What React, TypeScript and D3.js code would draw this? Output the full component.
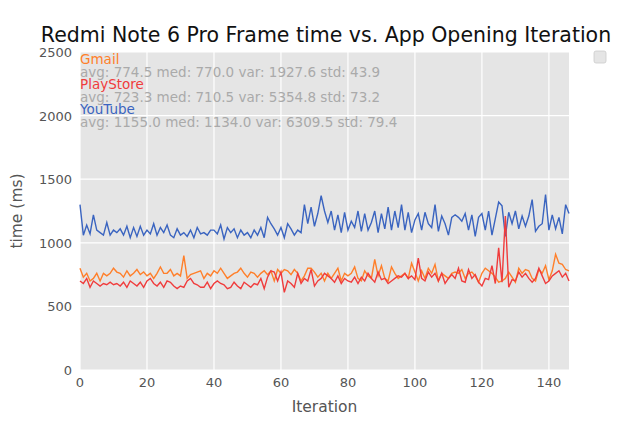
import React, { useEffect, useRef } from 'react';
import * as d3 from 'd3';

const youtube = [1300,1060,1140,1070,1220,1100,1080,1060,1160,1060,1100,1080,1110,1060,1130,1040,1120,1050,1130,1060,1100,1070,1150,1060,1120,1080,1140,1060,1040,1110,1060,1080,1050,1100,1040,1120,1070,1080,1060,1100,1100,1070,1140,1030,1120,1080,1110,1040,1100,1060,1080,1040,1100,1060,1120,1040,1200,1150,1110,1060,1120,1040,1150,1110,1060,1100,1080,1300,1150,1280,1130,1230,1370,1250,1160,
  1250,1100,1220,1080,1240,1100,1170,1120,1250,1090,1230,1100,1160,1250,1080,1230,1110,1280,1100,1250,1120,1300,1100,1240,1080,1180,1230,1100,1240,1150,1120,1300,1090,1210,1150,1060,1200,1220,1200,1170,1230,1100,1220,1050,1200,1230,1100,1250,1060,1190,1320,1290,1050,1240,1150,1250,1110,1210,1130,1210,1340,1090,1130,1150,1380,1100,1220,1110,1200,1070,1300,1230];
const gmail = [800,730,760,700,720,760,700,760,740,760,800,770,760,730,780,740,760,790,750,770,740,760,720,760,810,760,760,790,740,760,740,900,720,750,760,770,780,720,760,740,780,760,800,760,720,740,760,770,800,760,730,770,760,730,760,780,750,780,700,790,760,790,780,750,790,760,700,740,800,800,770,730,760,700,760,
  720,760,800,700,760,740,760,810,720,700,780,740,720,870,740,820,720,700,810,760,720,740,760,720,840,770,700,780,720,800,760,830,700,760,740,720,760,770,760,790,720,760,770,740,690,760,800,780,760,730,690,700,720,770,730,690,800,760,790,780,720,700,790,760,820,710,780,910,840,830,790,780];
const playstore = [700,680,720,650,700,680,660,680,670,690,670,680,660,690,650,700,680,660,690,650,700,720,680,660,690,650,700,690,660,640,660,650,700,720,680,670,650,650,690,640,680,700,680,670,640,650,690,660,640,690,670,650,680,670,720,640,730,780,770,700,770,610,700,680,650,760,680,720,700,790,660,700,720,760,740,
  720,690,740,680,720,700,690,730,680,730,700,760,720,690,770,710,720,680,700,720,740,730,760,720,740,710,880,720,700,770,730,760,700,760,680,720,750,720,800,700,690,790,720,750,690,660,720,710,820,680,960,690,1210,650,710,700,770,730,760,720,690,720,800,740,680,700,740,760,780,730,760,700];

const seriesNames = ['Gmail', 'PlayStore', 'YouTube'];
const seriesData = [gmail, playstore, youtube];
const lineColors = ['#ff7f2a', '#f03c3c', '#3a64c0'];
const statLines = [
  'avg: 774.5 med: 770.0 var: 1927.6 std: 43.9',
  'avg: 723.3 med: 710.5 var: 5354.8 std: 73.2',
  'avg: 1155.0 med: 1134.0 var: 6309.5 std: 79.4',
];
const xTicks = [0, 20, 40, 60, 80, 100, 120, 140];
const yTicks = [0, 500, 1000, 1500, 2000, 2500];

export default function App() {
  const ref = useRef<SVGSVGElement>(null);
  useEffect(() => {
    const svg = d3.select(ref.current);
    svg.selectAll('*').remove();
    const L = 80, R = 569, T = 52, B = 370;
    const n = youtube.length;
    const x = d3.scaleLinear([0, n - 1], [L, R]);
    const y = d3.scaleLinear([0, 2500], [B, T]);
    const font = 'DejaVu Sans, sans-serif';

    svg.append('rect').attr('x', L).attr('y', T).attr('width', R - L).attr('height', B - T).attr('fill', '#e5e5e5');
    xTicks.forEach((t) => {
      svg.append('line').attr('x1', x(t)).attr('x2', x(t)).attr('y1', T).attr('y2', B).attr('stroke', '#fff').attr('stroke-width', 1.2);
      svg.append('text').attr('x', x(t)).attr('y', B + 17).attr('text-anchor', 'middle').attr('font-size', 13).attr('fill', '#555').attr('font-family', font).text(t);
    });
    yTicks.forEach((t) => {
      svg.append('line').attr('x1', L).attr('x2', R).attr('y1', y(t)).attr('y2', y(t)).attr('stroke', '#fff').attr('stroke-width', 1.2);
      svg.append('text').attr('x', L - 8).attr('y', y(t) + 5).attr('text-anchor', 'end').attr('font-size', 13).attr('fill', '#555').attr('font-family', font).text(t);
    });

    const line = d3.line<number>().x((_, i) => x(i)).y((d) => y(d));
    [2, 0, 1].forEach((k) => {
      svg.append('path').attr('d', line(seriesData[k])).attr('fill', 'none').attr('stroke', lineColors[k]).attr('stroke-width', 1.4);
    });

    seriesNames.forEach((name, k) => {
      svg.append('text').attr('x', L).attr('y', 64 + k * 25).attr('font-size', 13.5).attr('fill', lineColors[k]).attr('font-family', font).text(name);
      svg.append('text').attr('x', L).attr('y', 77 + k * 25).attr('font-size', 13.5).attr('fill', '#aaa').attr('font-family', font).text(statLines[k]);
    });

    svg.append('text').attr('x', 326).attr('y', 42).attr('text-anchor', 'middle').attr('font-size', 20.5).attr('fill', '#111').attr('font-family', font)
      .text('Redmi Note 6 Pro Frame time vs. App Opening Iteration');
    svg.append('text').attr('x', (L + R) / 2).attr('y', 412).attr('text-anchor', 'middle').attr('font-size', 15.5).attr('fill', '#555').attr('font-family', font).text('Iteration');
    svg.append('text').attr('transform', `translate(22,${(T + B) / 2}) rotate(-90)`).attr('text-anchor', 'middle').attr('font-size', 15.5).attr('fill', '#555').attr('font-family', font).text('time (ms)');

    svg.append('rect').attr('x', 594).attr('y', 51).attr('width', 12).attr('height', 12).attr('rx', 2).attr('fill', '#e5e5e5').attr('stroke', '#ccc').attr('stroke-width', 0.8);
  }, []);
  return <svg ref={ref} width={633} height={422} style={{ position: 'absolute', left: 0, top: 0, background: '#fff' }} />;
}
